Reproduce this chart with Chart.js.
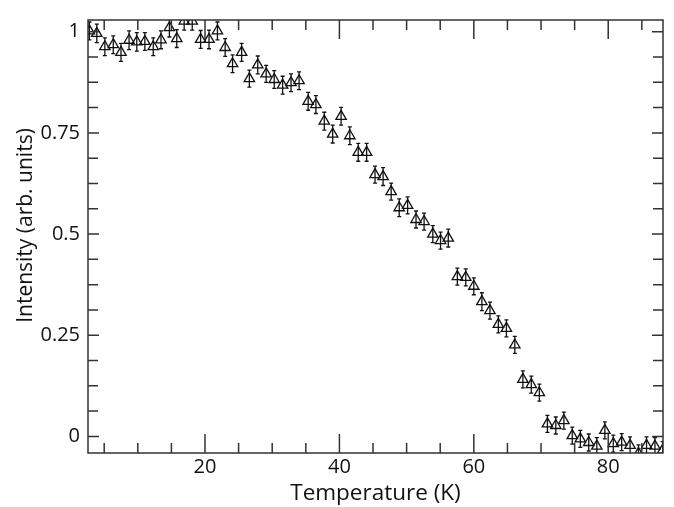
<!DOCTYPE html>
<html>
<head>
<meta charset="utf-8">
<script src="https://cdn.jsdelivr.net/npm/chart.js@4.4.1/dist/chart.umd.min.js"></script>
<style>
  html, body { margin: 0; padding: 0; background: #fff; }
  #wrap { width: 674px; height: 507px; }
</style>
</head>
<body>
<div id="wrap"><canvas id="chart"></canvas></div>
<script>
/* ---------------------------
   Data
--------------------------- */
const temperature = [
  2.8, 3.9, 5.1, 6.35, 7.5, 8.7, 9.85, 11.05, 12.3, 13.45,
  14.7, 15.8, 16.9, 18.1, 19.35, 20.6, 21.85, 23.0, 24.1, 25.45,
  26.6, 27.85, 29.1, 30.3, 31.55, 32.8, 34.0, 35.35, 36.5, 37.75,
  39.0, 40.25, 41.55, 42.8, 44.05, 45.3, 46.5, 47.7, 48.9, 50.15,
  51.4, 52.6, 53.9, 55.05, 56.2, 57.55, 58.8, 60.0, 61.2, 62.4,
  63.65, 64.85, 66.1, 67.3, 68.55, 69.75, 70.95, 72.2, 73.4, 74.65,
  75.85, 77.1, 78.3, 79.5, 80.75, 82.0, 83.25, 84.5, 85.7, 86.95, 88.1
];

const intensity = [
  1.002, 0.996, 0.963, 0.968, 0.949, 0.979, 0.975, 0.976, 0.963, 0.980,
  1.010, 0.983, 1.026, 1.026, 0.981, 0.981, 1.002, 0.961, 0.921, 0.949,
  0.884, 0.918, 0.896, 0.882, 0.868, 0.874, 0.879, 0.828, 0.820, 0.779,
  0.747, 0.791, 0.743, 0.702, 0.702, 0.647, 0.642, 0.605, 0.565, 0.571,
  0.536, 0.531, 0.500, 0.484, 0.490, 0.395, 0.393, 0.371, 0.333, 0.311,
  0.277, 0.267, 0.226, 0.141, 0.128, 0.108, 0.031, 0.027, 0.039, 0.002,
  -0.006, -0.015, -0.024, 0.015, -0.018, -0.014, -0.022, -0.042, -0.022, -0.024, -0.034
];

const errorBar = [
  0.022, 0.023, 0.022, 0.022, 0.022, 0.023, 0.023, 0.022, 0.022, 0.022,
  0.023, 0.022, 0.022, 0.022, 0.022, 0.023, 0.022, 0.022, 0.022, 0.022,
  0.021, 0.022, 0.021, 0.022, 0.022, 0.022, 0.022, 0.022, 0.022, 0.022,
  0.022, 0.022, 0.022, 0.022, 0.022, 0.021, 0.022, 0.021, 0.022, 0.021,
  0.021, 0.021, 0.021, 0.021, 0.022, 0.021, 0.021, 0.021, 0.022, 0.021,
  0.021, 0.021, 0.021, 0.021, 0.021, 0.021, 0.021, 0.021, 0.021, 0.021,
  0.021, 0.021, 0.021, 0.021, 0.021, 0.021, 0.021, 0.021, 0.021, 0.021, 0.021
];

const xTicks = [20, 40, 60, 80];
const xMinorTicks = [5, 10, 15, 25, 30, 35, 45, 50, 55, 65, 70, 75, 85];
const yTicks = [0, 0.25, 0.5, 0.75, 1];
const yMinorTicks = [0.0625, 0.125, 0.1875, 0.3125, 0.375, 0.4375,
                     0.5625, 0.625, 0.6875, 0.8125, 0.875, 0.9375];

const xRange = [2.59, 88.15];
const yRange = [-0.041, 1.029];

const xTitle = "Temperature (K)";
const yTitle = "Intensity (arb. units)";

/* ---------------------------
   Plugin: error bars + boxed frame with inward ticks
--------------------------- */
const frameColor = "#333";
const fontFamily = "'Open Sans', 'Noto Sans', sans-serif";

const errorBarsPlugin = {
  id: "errorBars",
  afterDatasetsDraw(chart) {
    const { ctx, chartArea: a, scales: { x, y } } = chart;
    ctx.save();
    ctx.beginPath();
    ctx.rect(a.left, a.top, a.right - a.left, a.bottom - a.top);
    ctx.clip();
    ctx.strokeStyle = "#111";
    ctx.lineWidth = 1.3;
    temperature.forEach((t, i) => {
      const px = x.getPixelForValue(t);
      const hi = y.getPixelForValue(intensity[i] + errorBar[i]);
      const lo = y.getPixelForValue(intensity[i] - errorBar[i]);
      ctx.beginPath();
      ctx.moveTo(px, hi); ctx.lineTo(px, lo);
      ctx.moveTo(px - 2, hi); ctx.lineTo(px + 2, hi);
      ctx.moveTo(px - 2, lo); ctx.lineTo(px + 2, lo);
      ctx.stroke();
    });
    ctx.restore();
  },
  afterDraw(chart) {
    const { ctx, chartArea: a, scales: { x, y } } = chart;
    ctx.save();
    ctx.strokeStyle = frameColor;
    ctx.lineWidth = 1.5;
    ctx.strokeRect(a.left, a.top, a.right - a.left, a.bottom - a.top);

    ctx.beginPath();
    const xTick = (v, len) => {
      const px = x.getPixelForValue(v);
      ctx.moveTo(px, a.bottom); ctx.lineTo(px, a.bottom - len);
      ctx.moveTo(px, a.top); ctx.lineTo(px, a.top + len);
    };
    xTicks.forEach(v => xTick(v, 19));
    xMinorTicks.forEach(v => xTick(v, 10));

    const yTick = (v, len) => {
      const py = y.getPixelForValue(v);
      ctx.moveTo(a.left, py); ctx.lineTo(a.left + len, py);
      ctx.moveTo(a.right, py); ctx.lineTo(a.right - len, py);
    };
    yTicks.forEach(v => yTick(v, 11));
    yMinorTicks.forEach(v => yTick(v, 10));
    ctx.stroke();

    // y axis title (sits a bit above the plot's centre in the reference)
    ctx.translate(26, (a.top + a.bottom) / 2 - 11);
    ctx.rotate(-Math.PI / 2);
    ctx.fillStyle = "#111";
    ctx.font = `21px ${fontFamily}`;
    ctx.textAlign = "center";
    ctx.textBaseline = "middle";
    ctx.fillText(yTitle, 0, 0);
    ctx.restore();
  }
};

/* ---------------------------
   Chart
--------------------------- */
new Chart(document.getElementById("chart"), {
  type: "scatter",
  data: {
    datasets: [{
      data: temperature.map((t, i) => ({ x: t, y: intensity[i] })),
      pointStyle: "triangle",
      pointRadius: 6,
      pointHoverRadius: 6,
      pointBorderWidth: 1.3,
      borderColor: "#111",
      backgroundColor: "rgba(0,0,0,0)",
      clip: 0
    }]
  },
  options: {
    responsive: true,
    maintainAspectRatio: false,
    animation: false,
    events: [],
    layout: { padding: { top: 12, right: 11, left: 0, bottom: 0 } },
    plugins: {
      legend: { display: false },
      tooltip: { enabled: false }
    },
    scales: {
      x: {
        type: "linear",
        min: xRange[0],
        max: xRange[1],
        afterBuildTicks: s => { s.ticks = xTicks.map(v => ({ value: v })); },
        afterFit: s => { s.height = 54; },
        grid: { display: false, drawTicks: false },
        border: { display: false },
        ticks: {
          padding: 2,
          color: "#111",
          font: { family: fontFamily, size: 20 },
          maxRotation: 0,
          callback: v => String(v)
        },
        title: {
          display: true,
          text: xTitle,
          color: "#111",
          font: { family: fontFamily, size: 22.5 },
          padding: { top: 0, bottom: 0 }
        }
      },
      y: {
        type: "linear",
        min: yRange[0],
        max: yRange[1],
        afterBuildTicks: s => { s.ticks = yTicks.map(v => ({ value: v })); },
        afterFit: s => { s.width = 88; },
        grid: { display: false, drawTicks: false },
        border: { display: false },
        ticks: {
          padding: 8,
          color: "#111",
          font: { family: fontFamily, size: 20 },
          callback: v => String(v)
        },
        title: { display: false }
      }
    }
  },
  plugins: [errorBarsPlugin]
});
</script>
</body>
</html>
